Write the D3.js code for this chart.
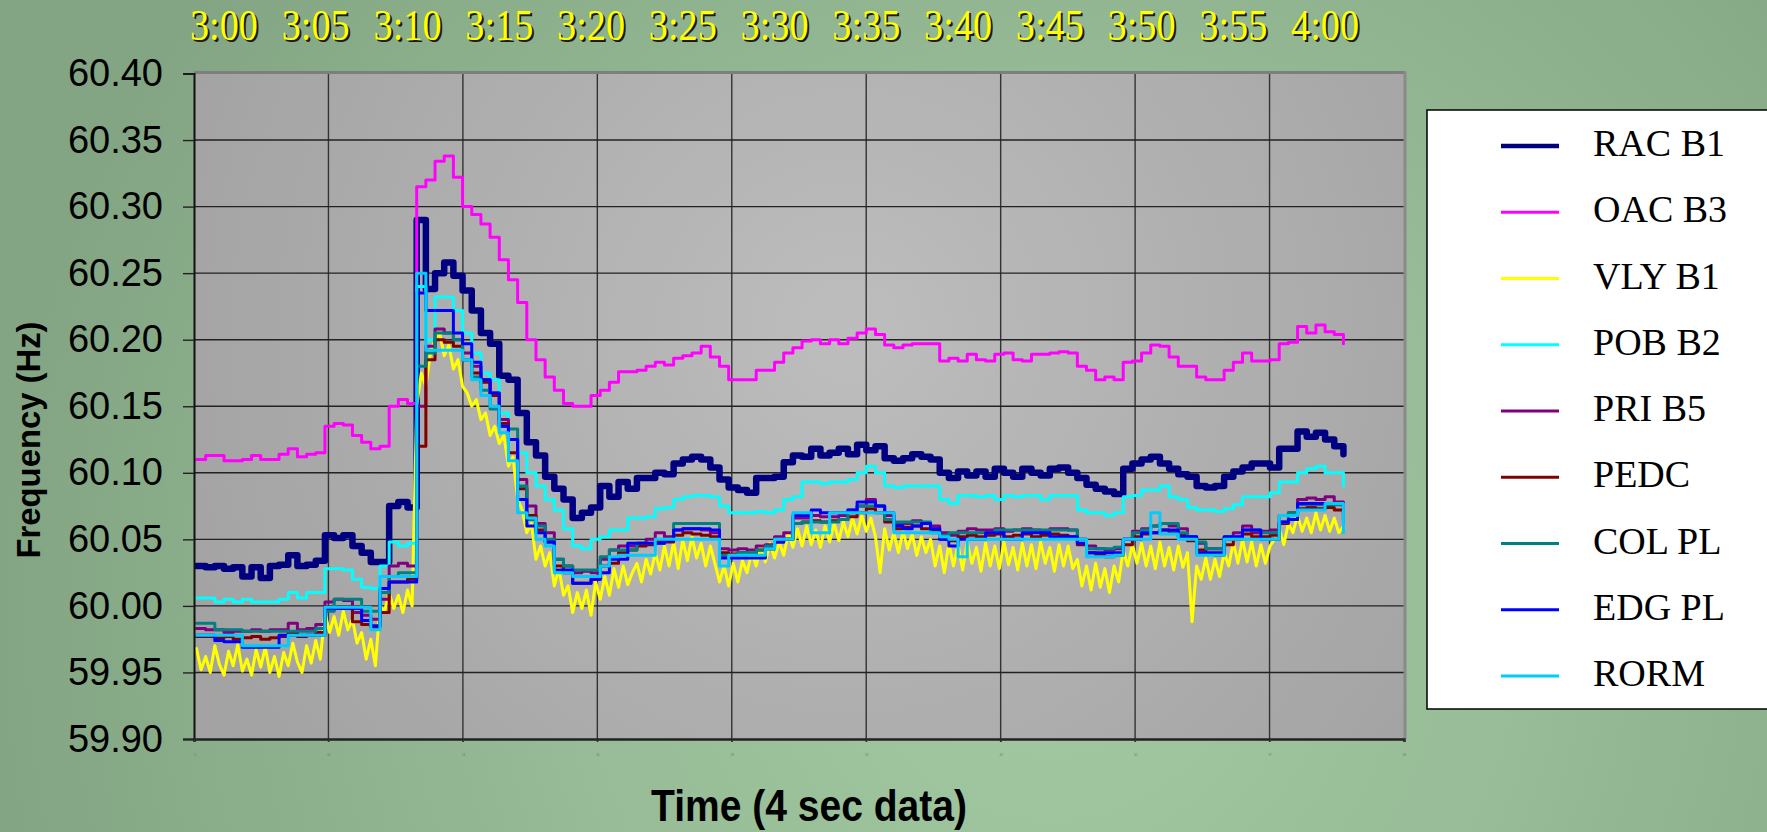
<!DOCTYPE html>
<html>
<head>
<meta charset="utf-8">
<script src="https://cdn.jsdelivr.net/npm/d3@7"></script>
<style>
  body { margin: 0; background: #8aac8a; }
  svg { display: block; }
</style>
</head>
<body>
<div id="chart"></div>
<script>
// minutes relative to 3:00; stepped series every 0.5 min, VLY B1 every 0.25 min
const sampleStart = -1.5;
const sampleStep = 0.5;
const vlyStep = 0.25;

const seriesNames = ["RAC B1", "OAC B3", "VLY B1", "POB B2", "PRI B5", "PEDC", "COL PL", "EDG PL", "RORM"];

const racB1 = [
  60.030, 60.029, 60.030, 60.028, 60.029, 60.022, 60.029, 60.021, 60.030, 60.031,
  60.038, 60.030, 60.031, 60.034, 60.053, 60.051, 60.053, 60.045, 60.040, 60.033,
  60.033, 60.075, 60.078, 60.074, 60.290, 60.238, 60.250, 60.258, 60.248, 60.237,
  60.222, 60.205, 60.197, 60.173, 60.170, 60.145, 60.123, 60.113, 60.097, 60.088,
  60.080, 60.066, 60.070, 60.074, 60.090, 60.082, 60.093, 60.088, 60.096, 60.096,
  60.100, 60.099, 60.107, 60.110, 60.112, 60.110, 60.104, 60.095, 60.089, 60.087,
  60.085, 60.096, 60.096, 60.097, 60.108, 60.113, 60.112, 60.118, 60.113, 60.115,
  60.118, 60.114, 60.121, 60.117, 60.120, 60.111, 60.109, 60.111, 60.114, 60.112,
  60.110, 60.100, 60.096, 60.101, 60.098, 60.101, 60.097, 60.103, 60.100, 60.097,
  60.103, 60.100, 60.098, 60.103, 60.104, 60.100, 60.096, 60.091, 60.088, 60.086,
  60.084, 60.103, 60.107, 60.110, 60.112, 60.107, 60.103, 60.099, 60.097, 60.090,
  60.089, 60.090, 60.097, 60.101, 60.104, 60.107, 60.107, 60.104, 60.118, 60.118,
  60.131, 60.127, 60.130, 60.125, 60.120, 60.114
];
const oacB3 = [
  60.110, 60.113, 60.113, 60.109, 60.109, 60.110, 60.113, 60.110, 60.110, 60.114,
  60.118, 60.112, 60.114, 60.115, 60.135, 60.137, 60.136, 60.128, 60.123, 60.118,
  60.120, 60.150, 60.155, 60.152, 60.315, 60.320, 60.334, 60.338, 60.322, 60.300,
  60.294, 60.287, 60.277, 60.260, 60.245, 60.228, 60.200, 60.185, 60.172, 60.162,
  60.152, 60.150, 60.150, 60.158, 60.162, 60.168, 60.176, 60.176, 60.177, 60.180,
  60.183, 60.181, 60.186, 60.188, 60.190, 60.195, 60.187, 60.180, 60.170, 60.170,
  60.170, 60.177, 60.177, 60.183, 60.190, 60.194, 60.199, 60.200, 60.197, 60.200,
  60.197, 60.201, 60.205, 60.208, 60.204, 60.196, 60.194, 60.196, 60.197, 60.197,
  60.197, 60.184, 60.186, 60.184, 60.189, 60.185, 60.184, 60.189, 60.190, 60.185,
  60.184, 60.189, 60.189, 60.190, 60.191, 60.190, 60.180, 60.177, 60.170, 60.172,
  60.170, 60.183, 60.184, 60.190, 60.196, 60.195, 60.187, 60.180, 60.180, 60.172,
  60.170, 60.170, 60.177, 60.183, 60.190, 60.184, 60.184, 60.185, 60.197, 60.198,
  60.210, 60.205, 60.211, 60.206, 60.204, 60.197
];
const vlyB1 = [
  59.968, 59.952, 59.962, 59.950, 59.970, 59.956, 59.948, 59.966, 59.955, 59.971,
  59.951, 59.960, 59.948, 59.967, 59.954, 59.969, 59.950, 59.962, 59.947, 59.965,
  59.955, 59.972, 59.958, 59.950, 59.970, 59.957, 59.974, 59.960, 59.995, 59.980,
  59.992, 59.978, 59.996, 59.982, 59.990, 59.972, 59.980, 59.960, 59.975, 59.955,
  60.000, 59.996, 60.010, 59.998, 60.008, 59.995, 60.012, 60.000, 60.150, 60.175,
  60.165, 60.190, 60.200, 60.205, 60.188, 60.196, 60.178, 60.185, 60.165, 60.160,
  60.150, 60.155, 60.140, 60.145, 60.128, 60.135, 60.122, 60.128, 60.105, 60.112,
  60.080, 60.072, 60.055, 60.062, 60.035, 60.045, 60.030, 60.040, 60.015, 60.028,
  60.008, 60.015, 59.995, 60.010, 59.998, 60.012, 59.993, 60.018, 60.005, 60.022,
  60.008, 60.028, 60.014, 60.030, 60.016, 60.025, 60.032, 60.018, 60.035, 60.024,
  60.040, 60.027, 60.045, 60.030, 60.048, 60.028, 60.050, 60.034, 60.052, 60.036,
  60.047, 60.030, 60.045, 60.032, 60.018, 60.030, 60.015, 60.032, 60.018, 60.034,
  60.025, 60.040, 60.030, 60.045, 60.033, 60.047, 60.036, 60.048, 60.038, 60.055,
  60.044, 60.058, 60.045, 60.060, 60.046, 60.057, 60.044, 60.060, 60.048, 60.062,
  60.049, 60.063, 60.052, 60.066, 60.054, 60.068, 60.056, 60.066, 60.052, 60.025,
  60.058, 60.042, 60.055, 60.040, 60.056, 60.043, 60.054, 60.038, 60.052, 60.040,
  60.050, 60.030, 60.045, 60.025, 60.047, 60.030, 60.046, 60.027, 60.048, 60.032,
  60.044, 60.026, 60.047, 60.030, 60.045, 60.028, 60.048, 60.031, 60.044, 60.027,
  60.047, 60.030, 60.046, 60.028, 60.048, 60.032, 60.044, 60.026, 60.046, 60.030,
  60.045, 60.028, 60.035, 60.015, 60.030, 60.012, 60.032, 60.014, 60.028, 60.010,
  60.030, 60.018, 60.042, 60.030, 60.046, 60.032, 60.047, 60.030, 60.045, 60.028,
  60.048, 60.030, 60.044, 60.027, 60.045, 60.029, 60.040, 59.988, 60.030, 60.020,
  60.036, 60.020, 60.035, 60.022, 60.040, 60.030, 60.048, 60.032, 60.050, 60.033,
  60.048, 60.030, 60.046, 60.032, 60.045, 60.050, 60.058, 60.046, 60.062, 60.055,
  60.068, 60.056, 60.066, 60.055, 60.070, 60.057, 60.068, 60.056, 60.066, 60.055,
  60.060
];
const pobB2 = [
  60.006, 60.006, 60.003, 60.005, 60.003, 60.005, 60.003, 60.003, 60.003, 60.005,
  60.010, 60.006, 60.010, 60.010, 60.028, 60.028, 60.027, 60.020, 60.014, 60.013,
  60.030, 60.048, 60.045, 60.047, 60.240, 60.200, 60.232, 60.232, 60.222, 60.205,
  60.190, 60.175, 60.170, 60.145, 60.125, 60.115, 60.100, 60.090, 60.080, 60.072,
  60.058, 60.045, 60.043, 60.050, 60.052, 60.057, 60.057, 60.066, 60.066, 60.067,
  60.073, 60.074, 60.080, 60.082, 60.083, 60.083, 60.082, 60.075, 60.070, 60.070,
  60.070, 60.071, 60.070, 60.072, 60.080, 60.082, 60.093, 60.093, 60.092, 60.093,
  60.093, 60.095, 60.100, 60.105, 60.100, 60.090, 60.089, 60.090, 60.090, 60.090,
  60.090, 60.080, 60.077, 60.083, 60.083, 60.082, 60.083, 60.080, 60.083, 60.082,
  60.083, 60.083, 60.080, 60.083, 60.083, 60.083, 60.072, 60.070, 60.070, 60.068,
  60.070, 60.082, 60.083, 60.087, 60.087, 60.090, 60.082, 60.080, 60.074, 60.072,
  60.072, 60.071, 60.073, 60.076, 60.082, 60.082, 60.082, 60.085, 60.093, 60.093,
  60.100, 60.103, 60.105, 60.100, 60.100, 60.090
];
const priB5 = [
  59.983, 59.982, 59.982, 59.980, 59.981, 59.981, 59.982, 59.981, 59.982, 59.982,
  59.987, 59.982, 59.983, 59.986, 60.003, 60.005, 60.004, 59.995, 59.993, 59.990,
  60.005, 60.030, 60.032, 60.030, 60.150, 60.195, 60.208, 60.205, 60.200, 60.190,
  60.180, 60.170, 60.160, 60.140, 60.125, 60.095, 60.075, 60.062, 60.055, 60.035,
  60.030, 60.025, 60.026, 60.025, 60.035, 60.042, 60.045, 60.045, 60.047, 60.050,
  60.055, 60.052, 60.057, 60.058, 60.058, 60.057, 60.055, 60.043, 60.042, 60.043,
  60.042, 60.045, 60.046, 60.052, 60.055, 60.066, 60.066, 60.068, 60.067, 60.067,
  60.068, 60.070, 60.075, 60.080, 60.075, 60.068, 60.062, 60.062, 60.064, 60.062,
  60.060, 60.055, 60.053, 60.056, 60.058, 60.057, 60.057, 60.058, 60.056, 60.057,
  60.058, 60.057, 60.056, 60.058, 60.058, 60.057, 60.050, 60.045, 60.043, 60.042,
  60.043, 60.050, 60.056, 60.058, 60.060, 60.062, 60.060, 60.058, 60.052, 60.047,
  60.043, 60.043, 60.050, 60.055, 60.060, 60.055, 60.056, 60.057, 60.068, 60.070,
  60.080, 60.081, 60.080, 60.082, 60.078, 60.068
];
const pedc = [
  59.977, 59.977, 59.976, 59.977, 59.975, 59.976, 59.977, 59.975, 59.976, 59.977,
  59.980, 59.977, 59.978, 59.980, 59.997, 59.998, 59.998, 59.988, 59.986, 59.984,
  59.995, 60.018, 60.018, 60.020, 60.120, 60.185, 60.200, 60.198, 60.195, 60.185,
  60.175, 60.168, 60.158, 60.137, 60.115, 60.088, 60.068, 60.057, 60.048, 60.030,
  60.025, 60.017, 60.017, 60.020, 60.030, 60.032, 60.040, 60.042, 60.045, 60.046,
  60.049, 60.048, 60.053, 60.055, 60.054, 60.053, 60.052, 60.040, 60.039, 60.040,
  60.039, 60.042, 60.043, 60.048, 60.050, 60.062, 60.063, 60.064, 60.063, 60.064,
  60.065, 60.067, 60.070, 60.073, 60.070, 60.063, 60.058, 60.059, 60.060, 60.058,
  60.056, 60.050, 60.049, 60.052, 60.053, 60.052, 60.053, 60.054, 60.052, 60.053,
  60.054, 60.052, 60.053, 60.054, 60.053, 60.052, 60.046, 60.040, 60.038, 60.037,
  60.038, 60.046, 60.052, 60.054, 60.055, 60.057, 60.055, 60.053, 60.049, 60.042,
  60.039, 60.038, 60.046, 60.050, 60.054, 60.052, 60.052, 60.053, 60.062, 60.065,
  60.073, 60.074, 60.073, 60.074, 60.072, 60.065
];
const colPL = [
  59.987, 59.987, 59.982, 59.982, 59.982, 59.981, 59.981, 59.981, 59.981, 59.981,
  59.981, 59.981, 59.981, 59.983, 59.996, 60.005, 60.005, 60.005, 59.996, 59.996,
  60.010, 60.022, 60.025, 60.025, 60.180, 60.190, 60.205, 60.205, 60.200, 60.185,
  60.172, 60.162, 60.148, 60.135, 60.133, 60.090, 60.065, 60.060, 60.050, 60.035,
  60.030, 60.027, 60.027, 60.027, 60.037, 60.042, 60.042, 60.042, 60.047, 60.047,
  60.047, 60.050, 60.062, 60.062, 60.062, 60.062, 60.062, 60.038, 60.038, 60.040,
  60.040, 60.042, 60.045, 60.050, 60.050, 60.062, 60.063, 60.063, 60.063, 60.063,
  60.065, 60.072, 60.075, 60.075, 60.075, 60.065, 60.063, 60.063, 60.063, 60.063,
  60.055, 60.053, 60.055, 60.055, 60.055, 60.055, 60.055, 60.057, 60.057, 60.057,
  60.057, 60.057, 60.057, 60.057, 60.057, 60.057, 60.050, 60.043, 60.043, 60.043,
  60.044, 60.050, 60.055, 60.057, 60.060, 60.062, 60.062, 60.055, 60.052, 60.048,
  60.043, 60.043, 60.052, 60.052, 60.057, 60.057, 60.055, 60.055, 60.063, 60.070,
  60.076, 60.076, 60.076, 60.076, 60.076, 60.070
];
const edgPL = [
  59.978, 59.978, 59.974, 59.973, 59.973, 59.969, 59.969, 59.969, 59.969, 59.978,
  59.978, 59.978, 59.978, 59.978, 59.998, 59.998, 59.998, 59.998, 59.989, 59.985,
  60.013, 60.018, 60.018, 60.018, 60.235, 60.222, 60.222, 60.222, 60.205, 60.197,
  60.183, 60.170, 60.160, 60.135, 60.125, 60.080, 60.060, 60.055, 60.048, 60.027,
  60.027, 60.017, 60.017, 60.020, 60.025, 60.035, 60.035, 60.047, 60.047, 60.047,
  60.047, 60.049, 60.057, 60.058, 60.058, 60.058, 60.057, 60.036, 60.036, 60.036,
  60.036, 60.036, 60.043, 60.048, 60.050, 60.068, 60.068, 60.072, 60.070, 60.070,
  60.070, 60.072, 60.078, 60.078, 60.075, 60.070, 60.060, 60.058, 60.060, 60.062,
  60.058, 60.050, 60.045, 60.050, 60.050, 60.050, 60.055, 60.055, 60.050, 60.050,
  60.055, 60.055, 60.055, 60.052, 60.052, 60.052, 60.047, 60.040, 60.040, 60.040,
  60.040, 60.050, 60.050, 60.055, 60.055, 60.057, 60.057, 60.052, 60.052, 60.040,
  60.040, 60.040, 60.052, 60.052, 60.057, 60.057, 60.050, 60.050, 60.063, 60.065,
  60.077, 60.077, 60.077, 60.077, 60.077, 60.063
];
const rorm = [
  59.978, 59.978, 59.978, 59.978, 59.978, 59.970, 59.970, 59.970, 59.970, 59.970,
  59.978, 59.978, 59.978, 59.978, 59.999, 59.999, 59.999, 59.999, 59.999, 59.982,
  60.022, 60.022, 60.022, 60.022, 60.250, 60.192, 60.192, 60.192, 60.192, 60.185,
  60.170, 60.158, 60.150, 60.130, 60.109, 60.070, 60.066, 60.050, 60.045, 60.025,
  60.025, 60.022, 60.022, 60.022, 60.030, 60.037, 60.038, 60.038, 60.038, 60.038,
  60.050, 60.050, 60.050, 60.050, 60.050, 60.050, 60.050, 60.030, 60.038, 60.038,
  60.038, 60.038, 60.043, 60.050, 60.050, 60.070, 60.070, 60.055, 60.055, 60.070,
  60.070, 60.070, 60.070, 60.070, 60.070, 60.070, 60.055, 60.055, 60.055, 60.055,
  60.055, 60.052, 60.050, 60.037, 60.050, 60.050, 60.050, 60.050, 60.050, 60.050,
  60.050, 60.050, 60.050, 60.050, 60.050, 60.050, 60.050, 60.037, 60.037, 60.037,
  60.038, 60.050, 60.050, 60.050, 60.070, 60.054, 60.054, 60.050, 60.050, 60.038,
  60.038, 60.038, 60.050, 60.050, 60.050, 60.050, 60.050, 60.050, 60.068, 60.068,
  60.072, 60.072, 60.072, 60.077, 60.077, 60.055
];

const seriesValues = [racB1, oacB3, vlyB1, pobB2, priB5, pedc, colPL, edgPL, rorm];
const seriesColors = ["#000080", "#ff00ff", "#ffff00", "#00ffff", "#800080", "#800000", "#008080", "#0000ff", "#00ccff"];
const seriesWidths = [6.5, 3, 3, 3, 3, 3, 3, 3, 3];

const yTicks = [59.90, 59.95, 60.00, 60.05, 60.10, 60.15, 60.20, 60.25, 60.30, 60.35, 60.40];
const timeLabels = ["3:00", "3:05", "3:10", "3:15", "3:20", "3:25", "3:30", "3:35", "3:40", "3:45", "3:50", "3:55", "4:00"];
const timeLabelMinutes = [0, 5, 10, 15, 20, 25, 30, 35, 40, 45, 50, 55, 60];

const width = 1767, height = 832;
const plot = {left: 194, right: 1404, top: 73.5, bottom: 739};

const svg = d3.select("#chart").append("svg")
  .attr("width", width)
  .attr("height", height);

const defs = svg.append("defs");

const bg = defs.append("radialGradient").attr("id", "bg")
  .attr("gradientUnits", "userSpaceOnUse")
  .attr("cx", 1050).attr("cy", 620).attr("r", 1050);
bg.append("stop").attr("offset", "0%").attr("stop-color", "#a2caa2");
bg.append("stop").attr("offset", "45%").attr("stop-color", "#97bc97");
bg.append("stop").attr("offset", "100%").attr("stop-color", "#83a583");

const pg = defs.append("radialGradient").attr("id", "plotbg")
  .attr("gradientUnits", "userSpaceOnUse")
  .attr("cx", 850).attr("cy", 330).attr("r", 700);
pg.append("stop").attr("offset", "0%").attr("stop-color", "#bdbdbd");
pg.append("stop").attr("offset", "100%").attr("stop-color", "#a3a3a3");

defs.append("clipPath").attr("id", "clip")
  .append("rect")
  .attr("x", plot.left).attr("y", plot.top)
  .attr("width", plot.right - plot.left).attr("height", plot.bottom - plot.top);

svg.append("rect").attr("width", width).attr("height", height).attr("fill", "url(#bg)");

// scales: x in minutes after 3:00
const x = d3.scaleLinear().domain([-1.635, 64.3]).range([plot.left, plot.right]);
const y = d3.scaleLinear().domain([59.90, 60.40]).range([plot.bottom, plot.top]);

svg.append("rect")
  .attr("x", plot.left).attr("y", plot.top)
  .attr("width", plot.right - plot.left).attr("height", plot.bottom - plot.top)
  .attr("fill", "url(#plotbg)");

// vertical gridlines every 110 samples (7.33 min)
const xGrid = d3.range(10).map(i => -1.635 + i * 65.935 / 9);

svg.append("g")
  .selectAll("line")
  .data(xGrid.slice(1, -1))
  .join("line")
    .attr("x1", d => x(d)).attr("x2", d => x(d))
    .attr("y1", plot.top).attr("y2", plot.bottom + 3)
    .attr("stroke", "#333").attr("stroke-width", 1.4);

svg.append("g")
  .selectAll("line")
  .data(yTicks.slice(1, -1))
  .join("line")
    .attr("x1", plot.left).attr("x2", plot.right)
    .attr("y1", d => y(d)).attr("y2", d => y(d))
    .attr("stroke", "#222").attr("stroke-width", 1.4);

// plot frame: grey top and right, dark axes
svg.append("line")
  .attr("x1", plot.left).attr("x2", plot.right + 1.5)
  .attr("y1", plot.top - 1).attr("y2", plot.top - 1)
  .attr("stroke", "#7e7e7e").attr("stroke-width", 3);
svg.append("line")
  .attr("x1", plot.right + 1).attr("x2", plot.right + 1)
  .attr("y1", plot.top - 2).attr("y2", plot.bottom)
  .attr("stroke", "#8a8a8a").attr("stroke-width", 3);

// series
const lineStep = d3.line()
  .x((d, i) => x(sampleStart + i * sampleStep))
  .y(d => y(d))
  .curve(d3.curveStepAfter);
const lineFine = d3.line()
  .x((d, i) => x(sampleStart + i * vlyStep))
  .y(d => y(d));

const lines = svg.append("g").attr("clip-path", "url(#clip)");
seriesValues.forEach((vals, k) => {
  lines.append("path")
    .attr("d", seriesNames[k] === "VLY B1" ? lineFine(vals) : lineStep(vals))
    .attr("fill", "none")
    .attr("stroke", seriesColors[k])
    .attr("stroke-width", seriesWidths[k])
    .attr("stroke-linejoin", "round")
    .attr("stroke-linecap", "round");
});

// axes
const yAxis = svg.append("g")
  .attr("transform", `translate(${plot.left},0)`)
  .call(d3.axisLeft(y).tickValues(yTicks).tickFormat(d3.format(".2f")).tickSize(11).tickPadding(20));
yAxis.select(".domain").attr("stroke", "#111").attr("stroke-width", 2);
yAxis.selectAll(".tick line").attr("stroke", "#222").attr("stroke-width", 1.4);
yAxis.selectAll("text")
  .attr("font-family", "'Liberation Sans', Arial, sans-serif")
  .attr("font-size", 38)
  .attr("fill", "#000");

const xAxis = svg.append("g")
  .attr("transform", `translate(0,${plot.bottom})`)
  .call(d3.axisBottom(x).tickValues(xGrid).tickSize(3).tickPadding(12)
    .tickFormat(d => d3.format("02")(Math.round(d))));
xAxis.select(".domain").attr("stroke", "#222").attr("stroke-width", 2.5);
xAxis.selectAll(".tick line").attr("stroke", "#333");
xAxis.selectAll("text")
  .attr("font-size", 3)
  .attr("fill", "#5f7f5f");

// top time labels with drop shadow
const topLabels = svg.append("g")
  .attr("font-family", "'Liberation Serif', 'Times New Roman', serif")
  .attr("font-size", 45)
  .attr("text-anchor", "middle");
topLabels.selectAll("text.shadow")
  .data(timeLabels)
  .join("text")
    .attr("class", "shadow")
    .attr("x", (d, i) => x(timeLabelMinutes[i]) + 2)
    .attr("y", 42)
    .attr("textLength", 68)
    .attr("lengthAdjust", "spacingAndGlyphs")
    .attr("fill", "#1a1a1a")
    .text(d => d);
topLabels.selectAll("text.label")
  .data(timeLabels)
  .join("text")
    .attr("class", "label")
    .attr("x", (d, i) => x(timeLabelMinutes[i]))
    .attr("y", 40)
    .attr("textLength", 68)
    .attr("lengthAdjust", "spacingAndGlyphs")
    .attr("fill", "#ffff00")
    .text(d => d);

// axis titles
svg.append("text")
  .attr("transform", "translate(40,440) rotate(-90)")
  .attr("text-anchor", "middle")
  .attr("font-family", "'Liberation Sans', Arial, sans-serif")
  .attr("font-weight", "bold")
  .attr("font-size", 34)
  .attr("textLength", 237)
  .attr("lengthAdjust", "spacingAndGlyphs")
  .text("Frequency (Hz)");

svg.append("text")
  .attr("x", 809).attr("y", 821)
  .attr("text-anchor", "middle")
  .attr("font-family", "'Liberation Sans', Arial, sans-serif")
  .attr("font-weight", "bold")
  .attr("font-size", 44)
  .attr("textLength", 316)
  .attr("lengthAdjust", "spacingAndGlyphs")
  .text("Time (4 sec data)");

// legend
const legend = svg.append("g");
legend.append("rect")
  .attr("x", 1427).attr("y", 110)
  .attr("width", 360).attr("height", 599)
  .attr("fill", "#fff")
  .attr("stroke", "#000").attr("stroke-width", 1.5);

const item = legend.selectAll("g.item")
  .data(seriesNames)
  .join("g")
    .attr("class", "item")
    .attr("transform", (d, i) => `translate(0,${146 + i * 66.25})`);
item.append("line")
  .attr("x1", 1501).attr("x2", 1559)
  .attr("stroke", (d, i) => seriesColors[i])
  .attr("stroke-width", (d, i) => i === 0 ? 4.5 : 3);
item.append("text")
  .attr("x", 1593).attr("y", 10)
  .attr("font-family", "'Liberation Serif', 'Times New Roman', serif")
  .attr("font-size", 38)
  .attr("fill", "#000")
  .text(d => d);
</script>
</body>
</html>
